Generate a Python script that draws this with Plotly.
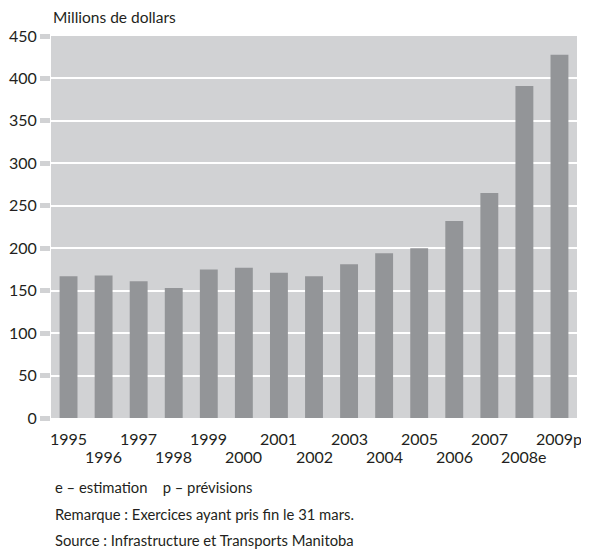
import plotly.graph_objects as go

years = ["1995", "1996", "1997", "1998", "1999", "2000", "2001", "2002",
         "2003", "2004", "2005", "2006", "2007", "2008e", "2009p"]
values = [167, 168, 161, 153, 175, 177, 171, 167, 181, 194, 200, 232, 265, 391, 428]
y_ticks = [0, 50, 100, 150, 200, 250, 300, 350, 400, 450]

FONT = "Lato, Roboto, sans-serif"
TXT = "#231f20"

# page body has an 8px margin; work in page pixels and shift
OFF = 8
W, H = 589 - OFF, 551 - OFF
PL, PR, PT, PB = 51, 577, 36, 418  # plot area in page pixels
L, R, T, B = PL - OFF, (W + OFF) - PR, PT - OFF, (H + OFF) - PB
pw, ph = W - L - R, H - T - B

def px_x(x):
    return (x - OFF - L) / pw

def px_y(y):
    return 1 - (y - OFF - T) / ph

fig = go.Figure(go.Bar(
    x=list(range(len(years))), y=values,
    marker=dict(color="#939598", line=dict(width=0)),
    width=0.51, hoverinfo="skip",
))

annotations = []
for i, yr in enumerate(years):
    annotations.append(dict(
        x=i, y=px_y(438) if i % 2 == 0 else px_y(456), xref="x", yref="paper",
        text=yr, showarrow=False, xanchor="center", yanchor="middle",
        font=dict(family=FONT, size=16, color=TXT),
    ))
annotations.append(dict(x=px_x(51), y=px_y(17), xref="paper", yref="paper",
                        text="Millions de dollars", showarrow=False,
                        xanchor="left", yanchor="middle",
                        font=dict(family=FONT, size=15.5, color=TXT)))
notes = ["e – estimation    p – prévisions",
         "Remarque : Exercices ayant pris fin le 31 mars.",
         "Source : Infrastructure et Transports Manitoba"]
for k, t in enumerate(notes):
    annotations.append(dict(x=px_x(53), y=px_y(487 + 26.5 * k), xref="paper", yref="paper",
                            text=t, showarrow=False, xanchor="left", yanchor="middle",
                            font=dict(family=FONT, size=14.8, color=TXT)))

fig.update_layout(
    width=W, height=H,
    margin=dict(l=L, r=R, t=T, b=B, pad=0),
    paper_bgcolor="white", plot_bgcolor="#d1d2d4",
    showlegend=False, annotations=annotations,
    font=dict(family=FONT, color=TXT),
    xaxis=dict(range=[-0.5, len(years) - 0.5], showticklabels=False, ticks="",
               showgrid=False, zeroline=False, showline=False, fixedrange=True,
               automargin=False),
    yaxis=dict(range=[0, 450], tickvals=y_ticks, ticktext=[str(v) for v in y_ticks],
               showgrid=True, gridcolor="white", gridwidth=2, zeroline=False,
               ticks="outside", ticklen=10, tickwidth=5, tickcolor="#d1d2d4",
               tickfont=dict(family=FONT, size=16, color=TXT),
               showline=False, fixedrange=True, automargin=False),
)

fig.write_html("out.html")
